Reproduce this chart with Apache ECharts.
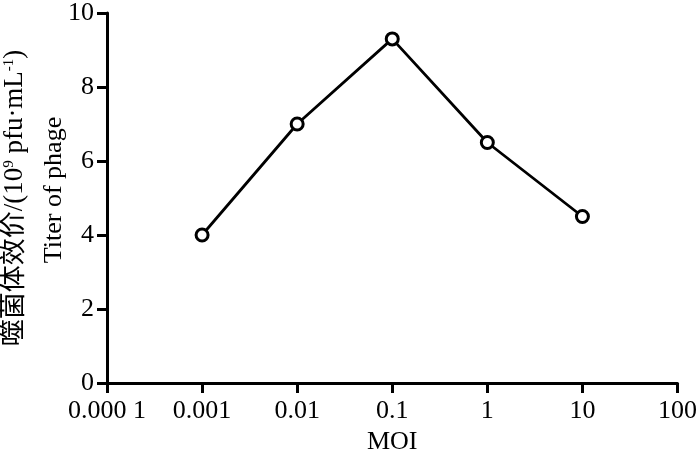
<!DOCTYPE html>
<html>
<head>
<meta charset="utf-8">
<script src="https://cdn.jsdelivr.net/npm/echarts@6/dist/echarts.min.js"></script>
<style>
  html, body { margin: 0; padding: 0; background: #fff; }
  #chart { width: 700px; height: 460px; }
</style>
</head>
<body>
<div id="chart"></div>
<script>
// MOI values (log scale) and phage titer (10^9 pfu/mL)
const moi = [0.001, 0.01, 0.1, 1, 10]
const titer = [4.0, 7.0, 9.3, 6.5, 4.5]
const xTickLabels = ['0.000 1', '0.001', '0.01', '0.1', '1', '10', '100']
const yTitleCn = '噬菌体效价/(10{sup|9} pfu·mL{sup|-1})'
const yTitleEn = 'Titer of phage'
const xTitle = 'MOI'

const serif = '"Liberation Serif", "Times New Roman", "Noto Sans CJK SC", serif'

const chart = echarts.init(document.getElementById('chart'))

const option = {
  animation: false,
  backgroundColor: '#fff',
  grid: { left: 107, right: 19, top: 12, bottom: 77, containLabel: false },
  xAxis: {
    type: 'log',
    logBase: 10,
    min: 0.0001,
    max: 100,
    splitNumber: 6,
    name: xTitle,
    nameLocation: 'middle',
    nameGap: 44,
    nameTextStyle: { fontFamily: serif, fontSize: 26, color: '#000' },
    axisLine: { lineStyle: { color: '#000', width: 3 } },
    axisTick: { show: true, length: 10, lineStyle: { color: '#000', width: 3 } },
    minorTick: { show: false },
    splitLine: { show: false },
    axisLabel: {
      color: '#000',
      fontFamily: serif,
      fontSize: 26,
      margin: 15,
      showMinLabel: true,
      showMaxLabel: true,
      formatter: v => xTickLabels[Math.round(Math.log10(v)) + 4]
    }
  },
  yAxis: {
    type: 'value',
    min: 0,
    max: 10,
    interval: 2,
    axisLine: { show: true, lineStyle: { color: '#000', width: 3 } },
    axisTick: { show: true, length: 10, lineStyle: { color: '#000', width: 3 } },
    splitLine: { show: false },
    axisLabel: { color: '#000', fontFamily: serif, fontSize: 26, margin: 13 }
  },
  graphic: [
    {
      type: 'text',
      x: 15,
      y: 198,
      rotation: Math.PI / 2,
      style: {
        text: yTitleCn,
        fill: '#000',
        font: '27px ' + serif,
        align: 'center',
        verticalAlign: 'middle',
        rich: {
          sup: { fontSize: 15, fontFamily: serif, verticalAlign: 'top', fill: '#000' }
        }
      }
    },
    {
      type: 'text',
      x: 54,
      y: 190,
      rotation: Math.PI / 2,
      style: {
        text: yTitleEn,
        fill: '#000',
        font: '26px ' + serif,
        align: 'center',
        verticalAlign: 'middle'
      }
    }
  ],
  series: [{
    type: 'line',
    data: moi.map((m, i) => [m, titer[i]]),
    symbol: 'circle',
    symbolSize: 12,
    lineStyle: { color: '#000', width: 2.8 },
    itemStyle: { color: '#fff', borderColor: '#000', borderWidth: 3 }
  }]
}

chart.setOption(option)
</script>
</body>
</html>
